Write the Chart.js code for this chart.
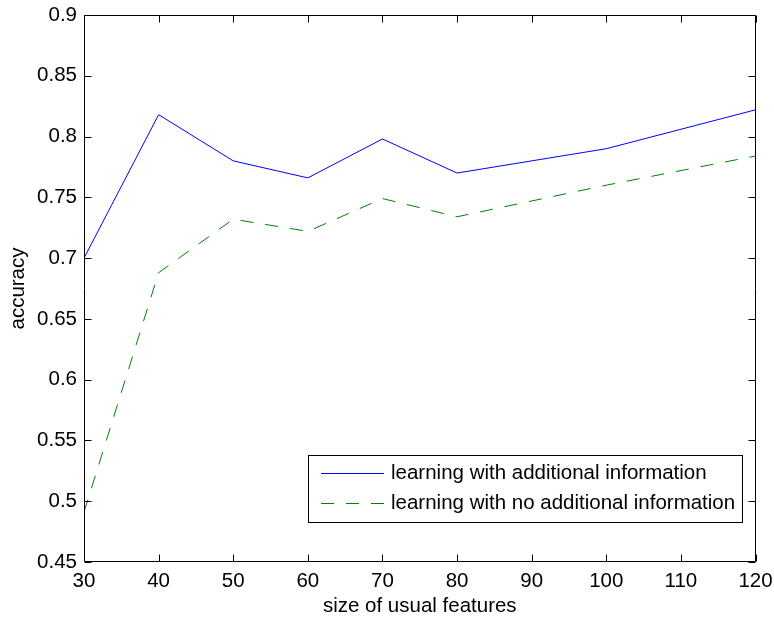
<!DOCTYPE html>
<html>
<head>
<meta charset="utf-8">
<script src="https://cdn.jsdelivr.net/npm/chart.js@4/dist/chart.umd.min.js"></script>
<style>
html,body{margin:0;padding:0;background:#fff;}
#wrap{width:774px;height:618px;}
</style>
</head>
<body>
<div id="wrap"><canvas id="c" width="774" height="618"></canvas></div>
<script>
const xValues = [30, 40, 50, 60, 70, 80, 100, 120];
const withInfo = [0.700, 0.818, 0.780, 0.766, 0.798, 0.770, 0.790, 0.822];
const noInfo = [0.491, 0.688, 0.732, 0.722, 0.749, 0.734, 0.760, 0.784];
const seriesLabels = ['learning with additional information', 'learning with no additional information'];
const xTickLabels = ['30','40','50','60','70','80','90','100','110','120'];
const yTickLabels = ['0.45','0.5','0.55','0.6','0.65','0.7','0.75','0.8','0.85','0.9'];
const xTitle = 'size of usual features';
const yTitle = 'accuracy';

const FONT = 'Liberation Sans, Arial, Helvetica, sans-serif';
const FS = 20.5;

const framePlugin = {
  id: 'frame',
  afterDatasetsDraw(chart) {
    const {ctx, chartArea: a, scales} = chart;
    const L = Math.round(a.left) + 0.5, R = Math.round(a.right) - 0.5;
    const T = Math.round(a.top) + 0.5, B = Math.round(a.bottom) - 0.5;
    ctx.save();
    ctx.strokeStyle = '#000';
    ctx.lineWidth = 1;
    ctx.beginPath();
    ctx.rect(L, T, R - L, B - T);
    ctx.stroke();
    const tl = 7;
    ctx.beginPath();
    scales.x.ticks.forEach(t => {
      const px = Math.round(scales.x.getPixelForValue(t.value)) + 0.5;
      ctx.moveTo(px, B); ctx.lineTo(px, B - tl);
      ctx.moveTo(px, T); ctx.lineTo(px, T + tl);
    });
    scales.y.ticks.forEach(t => {
      const py = Math.round(scales.y.getPixelForValue(t.value)) + 0.5;
      ctx.moveTo(L, py); ctx.lineTo(L + tl, py);
      ctx.moveTo(R, py); ctx.lineTo(R - tl, py);
    });
    ctx.stroke();

    // legend
    const bx = 308.5, by = 455.5, bw = 434, bh = 67;
    ctx.fillStyle = '#fff';
    ctx.fillRect(bx, by, bw, bh);
    ctx.strokeStyle = '#000';
    ctx.strokeRect(bx, by, bw, bh);
    const rows = [473.5, 503.5];
    chart.data.datasets.forEach((ds, i) => {
      ctx.beginPath();
      ctx.strokeStyle = ds.borderColor;
      ctx.lineWidth = ds.borderWidth;
      ctx.setLineDash(ds.borderDash || []);
      ctx.moveTo(321, rows[i]); ctx.lineTo(384, rows[i]);
      ctx.stroke();
      ctx.setLineDash([]);
      ctx.fillStyle = '#000';
      ctx.font = FS + 'px ' + FONT;
      ctx.textBaseline = 'middle';
      ctx.textAlign = 'left';
      ctx.fillText(ds.label, 391, rows[i]);
    });
    ctx.restore();
  }
};

new Chart(document.getElementById('c'), {
  type: 'line',
  data: {
    datasets: [
      {
        label: seriesLabels[0],
        data: xValues.map((x, i) => ({x: x, y: withInfo[i]})),
        borderColor: '#0000ff',
        borderWidth: 1,
        pointRadius: 0,
        fill: false,
        tension: 0
      },
      {
        label: seriesLabels[1],
        data: xValues.map((x, i) => ({x: x, y: noInfo[i]})),
        borderColor: '#008000',
        borderWidth: 1,
        borderDash: [13, 12],
        pointRadius: 0,
        fill: false,
        tension: 0
      }
    ]
  },
  options: {
    responsive: false,
    animation: false,
    events: [],
    layout: {padding: {top: 15, right: 18.5, left: 0, bottom: 0}},
    plugins: {legend: {display: false}, tooltip: {enabled: false}},
    scales: {
      x: {
        type: 'linear',
        min: 30, max: 120,
        grid: {display: false, drawTicks: false},
        border: {display: false},
        ticks: {
          stepSize: 10,
          color: '#000',
          font: {family: FONT, size: FS},
          padding: 7,
          maxRotation: 0,
          autoSkip: false,
          callback: (v, i) => xTickLabels[i]
        },
        title: {display: true, text: xTitle, color: '#000', font: {family: FONT, size: FS}, padding: {top: 0, bottom: -1}},
        afterFit: s => { s.height = 56; s.paddingLeft = 0; s.paddingRight = 0; }
      },
      y: {
        type: 'linear',
        min: 0.45, max: 0.9,
        grid: {display: false, drawTicks: false},
        border: {display: false},
        ticks: {
          stepSize: 0.05,
          color: '#000',
          font: {family: FONT, size: FS},
          padding: 7,
          autoSkip: false,
          callback: (v, i) => yTickLabels[i]
        },
        title: {display: true, text: yTitle, color: '#000', font: {family: FONT, size: FS}, padding: {top: 6, bottom: 0}},
        afterFit: s => { s.width = 84; s.paddingTop = 0; s.paddingBottom = 0; }
      }
    }
  },
  plugins: [framePlugin]
});
</script>
</body>
</html>
